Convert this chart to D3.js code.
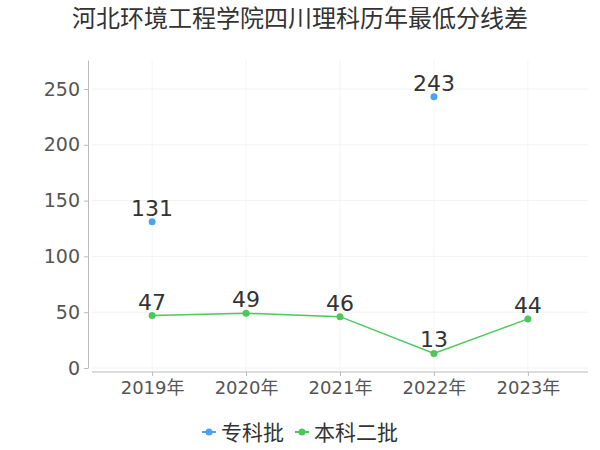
<!DOCTYPE html>
<html>
<head>
<meta charset="utf-8">
<script src="https://cdn.jsdelivr.net/npm/d3@7"></script>
<style>
  body { margin: 0; background: #fff; }
  text { font-family: "DejaVu Sans", "Noto Sans CJK SC", sans-serif; }
</style>
</head>
<body>
<div id="chartArea"></div>
<script>
const title = "河北环境工程学院四川理科历年最低分线差";
const years = ["2019年", "2020年", "2021年", "2022年", "2023年"];
const zhuanke = [131, null, null, 243, null];
const benke2 = [47, 49, 46, 13, 44];
const yTicks = [0, 50, 100, 150, 200, 250];
const seriesNames = ["专科批", "本科二批"];
const colors = ["#4aa3f5", "#4cc75a"];

(function() {
  const W = 600, H = 450;
  const svg = d3.select("#chartArea").append("svg")
    .attr("width", W).attr("height", H);

  const xScale = d3.scalePoint().domain(years).range([92, 588]).padding(0.64);
  const yScale = d3.scaleLinear().domain([0, 276]).range([368, 60]);

  // grid
  svg.append("g").selectAll("line").data(yTicks).enter().append("line")
    .attr("x1", 92).attr("x2", 588)
    .attr("y1", d => yScale(d)).attr("y2", d => yScale(d))
    .attr("stroke", "#f2f2f2");
  svg.append("g").selectAll("line").data(years).enter().append("line")
    .attr("x1", d => xScale(d)).attr("x2", d => xScale(d))
    .attr("y1", 60).attr("y2", 372)
    .attr("stroke", "#f4f4f4");

  // y axis
  const yAxis = d3.axisLeft(yScale).tickValues(yTicks).tickSizeInner(4).tickSizeOuter(0).tickPadding(4);
  const gy = svg.append("g").attr("transform", "translate(88,0)").call(yAxis);
  gy.select(".domain").attr("stroke", "#bbb");
  gy.selectAll(".tick line").attr("stroke", "#bbb");
  gy.selectAll("text").attr("fill", "#555").style("font-size", "19px")
    .style("font-family", "'DejaVu Sans', sans-serif");

  // x axis
  const xAxis = d3.axisBottom(xScale).tickSizeInner(4).tickSizeOuter(0).tickPadding(5);
  const gx = svg.append("g").attr("transform", "translate(0,372)").call(xAxis);
  gx.select(".domain").attr("stroke", "#bbb").attr("d", "M92,0H588");
  gx.selectAll(".tick line").attr("stroke", "#bbb");
  gx.selectAll("text").attr("fill", "#555").style("font-size", "18px")
    .style("font-family", "'DejaVu Sans', 'Noto Sans CJK SC', sans-serif");

  const series = [zhuanke, benke2];
  series.forEach((vals, si) => {
    const pts = years.map((y, i) => ({ y, v: vals[i] })).filter(d => d.v != null);
    const line = d3.line().x(d => xScale(d.y)).y(d => yScale(d.v));
    if (si === 1) {
      svg.append("path").datum(pts).attr("d", line)
        .attr("fill", "none").attr("stroke", colors[si]).attr("stroke-width", 1.5);
    }
    svg.append("g").selectAll("circle").data(pts).enter().append("circle")
      .attr("cx", d => xScale(d.y)).attr("cy", d => yScale(d.v))
      .attr("r", 3.5).attr("fill", colors[si]);
    svg.append("g").selectAll("text").data(pts).enter().append("text")
      .attr("x", d => xScale(d.y)).attr("y", d => yScale(d.v) - 6)
      .attr("text-anchor", "middle").attr("fill", "#333")
      .style("font-size", "22px").style("font-family", "'DejaVu Sans', sans-serif")
      .text(d => d.v);
  });

  // title
  svg.append("text").attr("x", 300).attr("y", 27).attr("text-anchor", "middle")
    .attr("fill", "#333").style("font-size", "24px").text(title);

  // legend
  const legendX = [202, 295];
  seriesNames.forEach((name, i) => {
    const g = svg.append("g").attr("transform", "translate(" + legendX[i] + ",432)");
    g.append("line").attr("x1", 0).attr("x2", 14).attr("y1", 0).attr("y2", 0)
      .attr("stroke", colors[i]).attr("stroke-width", 2);
    g.append("circle").attr("cx", 7).attr("cy", 0).attr("r", 3.5).attr("fill", colors[i]);
    g.append("text").attr("x", 19).attr("y", 8).attr("fill", "#333")
      .style("font-size", "21px").text(name);
  });
})();
</script>
</body>
</html>
